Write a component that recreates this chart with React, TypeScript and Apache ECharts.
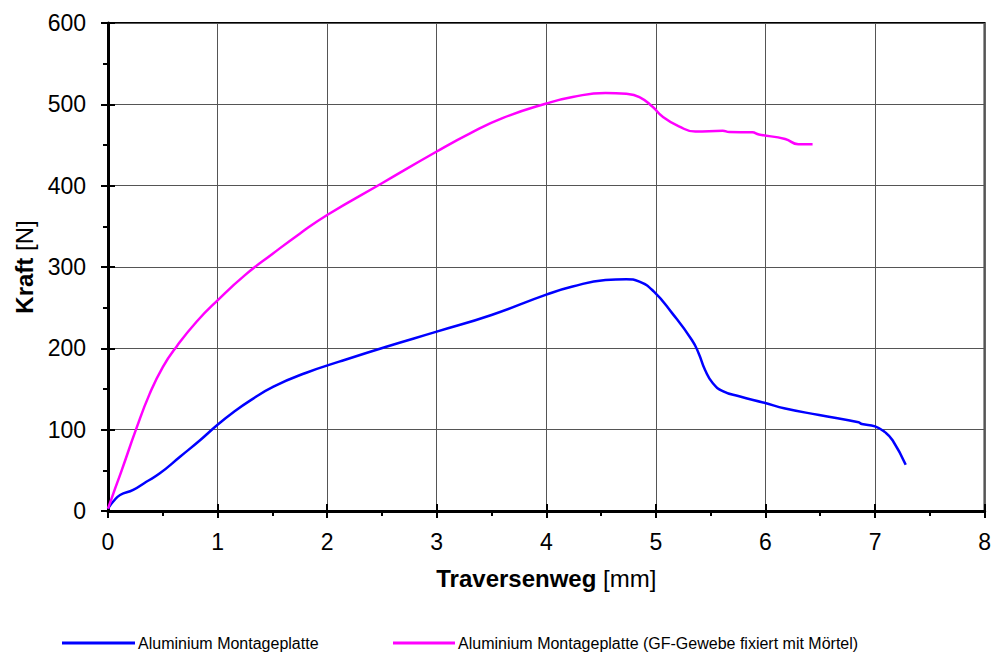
import React, { useEffect, useRef } from "react";
import * as echarts from "echarts";

const blueX = [0, 0.05, 0.11, 0.23, 0.35, 0.47, 0.66, 0.84, 1.0, 1.15, 1.3, 1.51, 1.81, 2.11, 2.54, 3.0, 3.5, 4.0, 4.24, 4.54, 4.73, 4.85, 4.98, 5.15, 5.33, 5.39, 5.45, 5.52, 5.61, 5.76, 5.99, 6.18, 6.49, 6.85, 6.88, 7.0, 7.09, 7.16, 7.28];
const blueY = [3, 12, 19.7, 26, 36, 46, 67, 87, 106, 122, 136, 153, 170, 183.6, 202, 220.5, 241, 266, 276, 284, 285, 282, 270, 243, 210, 194, 173, 157, 147.5, 141, 133, 126, 118, 109, 107, 104, 97, 87, 57];

const magX = [0, 0.05, 0.125, 0.255, 0.38, 0.5, 0.63, 0.81, 1.0, 1.25, 1.5, 1.75, 2.0, 2.5, 3.0, 3.3, 3.6, 4.0, 4.24, 4.54, 4.73, 4.85, 4.97, 5.06, 5.21, 5.36, 5.61, 5.67, 5.88, 5.94, 6.18, 6.3, 6.43];
const magY = [3, 22, 50, 100, 144, 177, 203, 233, 259, 290, 316, 341, 364, 403, 442, 464, 483, 501, 509, 514, 513, 509, 497, 485, 473, 466.5, 467.5, 466, 465.6, 463, 457.4, 451, 451];

const seriesNames = [
  "Aluminium Montageplatte",
  "Aluminium Montageplatte (GF-Gewebe fixiert mit Mörtel)",
];
const xName = "{b|Traversenweg} [mm]";
const yName = "{b|Kraft} [N]";

const FONT = "Arial, 'Liberation Sans', sans-serif";

export default function App() {
  const ref = useRef<HTMLDivElement>(null);
  useEffect(() => {
    if (!ref.current) return;
    const chart = echarts.init(ref.current, null, { renderer: "svg" });
    const zip = (xs: number[], ys: number[]) => xs.map((x, i) => [x, ys[i]]);
    const xBase = { type: "value", min: 0, max: 8, interval: 1, gridIndex: 0 };
    const yBase = { type: "value", min: 0, max: 600, interval: 100, gridIndex: 0 };
    const legendBase = {
      top: 630,
      itemHeight: 3,
      icon: "rect",
      itemGap: 6,
      textStyle: { fontSize: 16, color: "#000", fontFamily: FONT, padding: [0, 0, 0, -2] },
    };
    chart.setOption({
      animation: false,
      backgroundColor: "#fff",
      textStyle: { fontFamily: FONT, color: "#000" },
      grid: {
        left: 108,
        right: 8,
        top: 23,
        bottom: 142,
        show: true,
        borderColor: "#000",
        borderWidth: 2,
      },
      legend: [
        { ...legendBase, left: 57, itemWidth: 73, data: [seriesNames[0]] },
        { ...legendBase, left: 388, itemWidth: 62, data: [seriesNames[1]] },
      ],
      xAxis: [
        {
          ...xBase,
          position: "bottom",
          name: xName,
          nameLocation: "middle",
          nameGap: 55,
          nameTextStyle: {
            fontSize: 24,
            color: "#000",
            fontFamily: FONT,
            rich: { b: { fontWeight: "bold", fontSize: 24, fontFamily: FONT, color: "#000" } },
          },
          axisLine: { show: true, lineStyle: { color: "#000", width: 3 } },
          axisTick: { show: true, inside: false, length: 7, lineStyle: { color: "#000", width: 2 } },
          minorTick: { show: true, splitNumber: 2, length: 5, lineStyle: { color: "#000", width: 2 } },
          axisLabel: { show: true, fontSize: 23, color: "#000", margin: 19, fontFamily: FONT },
          splitLine: { show: true, lineStyle: { color: "#555", width: 1 } },
        },
        {
          ...xBase,
          position: "bottom",
          axisLine: { show: false },
          axisTick: { show: true, inside: true, length: 7, lineStyle: { color: "#000", width: 2 } },
          axisLabel: { show: false },
          splitLine: { show: false },
        },
      ],
      yAxis: [
        {
          ...yBase,
          position: "left",
          name: yName,
          nameLocation: "middle",
          nameGap: 72,
          nameRotate: 90,
          nameTextStyle: {
            fontSize: 24,
            color: "#000",
            fontFamily: FONT,
            rich: { b: { fontWeight: "bold", fontSize: 24, fontFamily: FONT, color: "#000" } },
          },
          axisLine: { show: true, lineStyle: { color: "#000", width: 3 } },
          axisTick: { show: true, inside: false, length: 7, lineStyle: { color: "#000", width: 2 } },
          minorTick: { show: true, splitNumber: 2, length: 5, lineStyle: { color: "#000", width: 2 } },
          axisLabel: { show: true, fontSize: 23, color: "#000", margin: 22, fontFamily: FONT },
          splitLine: { show: true, lineStyle: { color: "#555", width: 1 } },
        },
        {
          ...yBase,
          position: "left",
          axisLine: { show: false },
          axisTick: { show: true, inside: true, length: 7, lineStyle: { color: "#000", width: 2 } },
          axisLabel: { show: false },
          splitLine: { show: false },
        },
      ],
      series: [
        {
          name: seriesNames[0],
          type: "line",
          xAxisIndex: 0,
          yAxisIndex: 0,
          data: zip(blueX, blueY),
          showSymbol: false,
          smooth: 0.5,
          lineStyle: { color: "#0000ff", width: 2.5 },
          itemStyle: { color: "#0000ff" },
        },
        {
          name: seriesNames[1],
          type: "line",
          xAxisIndex: 0,
          yAxisIndex: 0,
          data: zip(magX, magY),
          showSymbol: false,
          smooth: 0.5,
          lineStyle: { color: "#ff00ff", width: 2.5 },
          itemStyle: { color: "#ff00ff" },
        },
      ],
    });
    return () => chart.dispose();
  }, []);
  return (
    <div
      ref={ref}
      style={{ position: "fixed", left: 0, top: 0, width: 994, height: 653, background: "#fff" }}
    />
  );
}
